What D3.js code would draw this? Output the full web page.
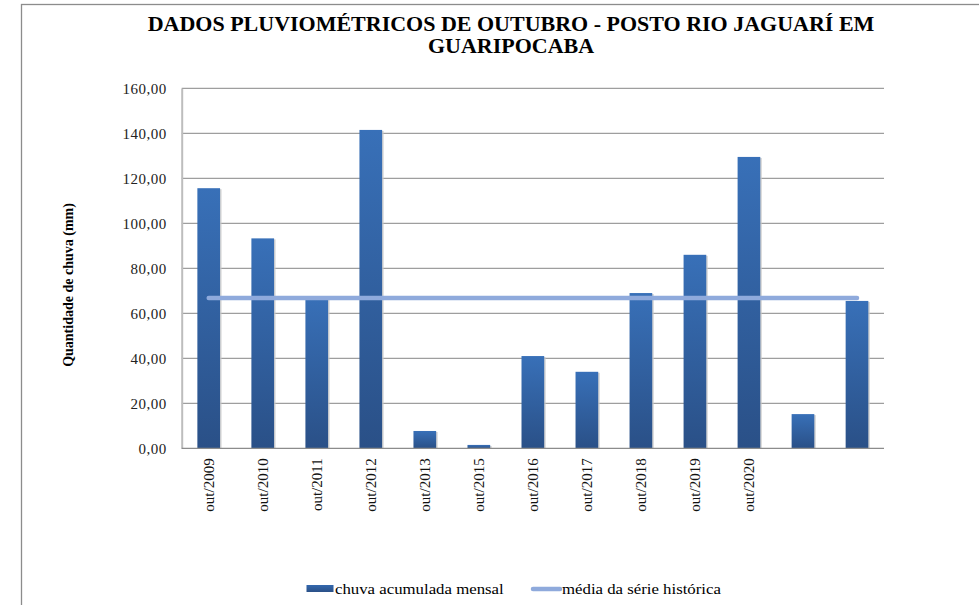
<!DOCTYPE html>
<html>
<head>
<meta charset="utf-8">
<script src="https://cdn.jsdelivr.net/npm/d3@7"></script>
<style>
  html, body { margin: 0; padding: 0; background: #fff; }
  svg { display: block; }
</style>
</head>
<body>
<svg id="chart" width="979" height="605" font-family="Liberation Serif, Times New Roman, serif"></svg>
<script>
// ---- data ----
const categories = ["out/2009","out/2010","out/2011","out/2012","out/2013","out/2015","out/2016","out/2017","out/2018","out/2019","out/2020","",""];
const rainfall = [115.6, 93.3, 67.5, 141.5, 7.7, 1.5, 41.0, 34.0, 69.0, 86.0, 129.5, 15.2, 65.5];
const historicalMean = [66.8, 66.8, 66.8, 66.8, 66.8, 66.8, 66.8, 66.8, 66.8, 66.8, 66.8, 66.8, 66.8];
const yTicks = [0, 20, 40, 60, 80, 100, 120, 140, 160];
const titleLines = ["DADOS PLUVIOMÉTRICOS DE OUTUBRO - POSTO RIO JAGUARÍ EM", "GUARIPOCABA"];
const yAxisTitle = "Quantidade de chuva (mm)";
const seriesNames = ["chuva acumulada mensal", "média da série histórica"];

const SERIF = "'Liberation Serif', 'Times New Roman', serif";

// ---- layout ----
const svg = d3.select("#chart");
const plot = { left: 181.7, right: 884, top: 88.3, bottom: 448.3 };

// outer border
svg.append("rect").attr("x", 21.5).attr("y", 4.5).attr("width", 1000).attr("height", 700)
  .attr("fill", "none").attr("stroke", "#8c8c8c").attr("stroke-width", 1.3);

const defs = svg.append("defs");
const grad = defs.append("linearGradient").attr("id", "barGrad")
  .attr("x1", 0).attr("y1", 0).attr("x2", 0).attr("y2", 1);
grad.append("stop").attr("offset", "0%").attr("stop-color", "#3870B8");
grad.append("stop").attr("offset", "100%").attr("stop-color", "#2A5087");
const legGrad = defs.append("linearGradient").attr("id", "legGrad")
  .attr("x1", 0).attr("y1", 0).attr("x2", 0).attr("y2", 1);
legGrad.append("stop").attr("offset", "0%").attr("stop-color", "#3468AE");
legGrad.append("stop").attr("offset", "100%").attr("stop-color", "#2A5087");

const x = d3.scaleBand()
  .domain(categories.map((c, i) => i))
  .range([plot.left, plot.right])
  .paddingInner(0.58)
  .paddingOuter(0.29);
const y = d3.scaleLinear().domain([0, 160]).range([plot.bottom, plot.top]);

// gridlines
svg.append("g").selectAll("line").data(yTicks.filter(t => t > 0)).join("line")
  .attr("x1", plot.left).attr("x2", plot.right)
  .attr("y1", d => y(d)).attr("y2", d => y(d))
  .attr("stroke", "#868686").attr("stroke-width", 1);

// y axis
const yAxis = d3.axisLeft(y).tickValues(yTicks).tickSize(0).tickPadding(14)
  .tickFormat(d => d3.format(".2f")(d).replace(".", ","));
const yg = svg.append("g").attr("transform", `translate(${plot.left},0)`).call(yAxis);
yg.attr("font-family", SERIF).attr("font-size", 15);
yg.select(".domain").attr("stroke", "#bdbdbd").attr("stroke-width", 2);
yg.selectAll(".tick text").attr("fill", "#222").attr("x", -15)
  .style("letter-spacing", "0.5px");

// bars shadow
svg.append("g").selectAll("rect").data(rainfall).join("rect")
  .attr("x", (d, i) => x(i) + 1.5)
  .attr("y", d => y(d) + 1)
  .attr("width", x.bandwidth())
  .attr("height", d => plot.bottom - y(d) - 1)
  .attr("fill", "#c8c8c8").attr("opacity", 0.8);

// bars
svg.append("g").selectAll("rect").data(rainfall).join("rect")
  .attr("x", (d, i) => x(i))
  .attr("y", d => y(d))
  .attr("width", x.bandwidth())
  .attr("height", d => plot.bottom - y(d))
  .attr("fill", "url(#barGrad)");

// x axis baseline
svg.append("line").attr("x1", plot.left).attr("x2", plot.right)
  .attr("y1", plot.bottom).attr("y2", plot.bottom)
  .attr("stroke", "#8c8c8c").attr("stroke-width", 1.3);

// x labels
const xAxis = d3.axisBottom(x).tickSize(0).tickFormat(i => categories[i]);
const xg = svg.append("g").attr("transform", `translate(0,${plot.bottom})`).call(xAxis);
xg.attr("font-family", SERIF).attr("font-size", 15);
xg.select(".domain").remove();
xg.selectAll(".tick text")
  .attr("fill", "#111")
  .attr("text-anchor", "end")
  .attr("transform", "rotate(-90)")
  .attr("x", -10).attr("y", 0).attr("dy", "0.35em");

// mean line
const line = d3.line().x((d, i) => x(i) + x.bandwidth() / 2).y(d => y(d));
svg.append("path").datum(historicalMean).attr("d", line)
  .attr("fill", "none").attr("stroke", "#8FAADC").attr("stroke-width", 4.5)
  .attr("stroke-linecap", "round");

// title (slightly stretched horizontally like the reference)
const tg = svg.append("g").attr("transform", "translate(511,0) scale(1.1,1)");
tg.append("text").attr("text-anchor", "middle")
  .attr("font-family", SERIF).attr("font-weight", "bold").attr("font-size", 20)
  .selectAll("tspan").data(titleLines).join("tspan")
  .attr("x", 0).attr("y", (d, i) => 31 + i * 22.5).text(d => d);

// y axis title
svg.append("text").attr("transform", "translate(73,285) rotate(-90)")
  .attr("text-anchor", "middle").attr("font-family", SERIF)
  .attr("font-weight", "bold").attr("font-size", 14)
  .text(yAxisTitle);

// legend
const leg = svg.append("g").attr("font-family", SERIF).attr("font-size", 15);
leg.append("rect").attr("x", 306.5).attr("y", 585).attr("width", 27).attr("height", 7)
  .attr("fill", "url(#legGrad)");
leg.append("text").attr("transform", "translate(335,594) scale(1.12,1)").text(seriesNames[0]);
leg.append("line").attr("x1", 533).attr("x2", 560).attr("y1", 589).attr("y2", 589)
  .attr("stroke", "#8FAADC").attr("stroke-width", 4.5).attr("stroke-linecap", "round");
leg.append("text").attr("transform", "translate(562,594) scale(1.12,1)").text(seriesNames[1]);
</script>
</body>
</html>
